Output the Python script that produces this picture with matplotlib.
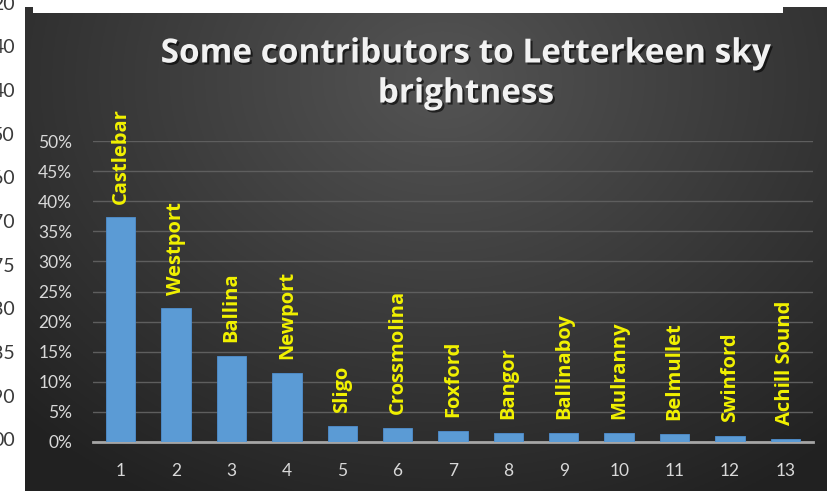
import numpy as np
import matplotlib
matplotlib.use("Agg")
import matplotlib.pyplot as plt
import matplotlib.patheffects as pe
from matplotlib.patches import Rectangle

# share of sky brightness per town (percent)
towns = ["Castlebar", "Westport", "Ballina", "Newport", "Sligo", "Crossmolina",
         "Foxford", "Bangor", "Ballinaboy", "Mulranny", "Belmullet", "Swinford",
         "Achill Sound"]
ranks = ["1", "2", "3", "4", "5", "6", "7", "8", "9", "10", "11", "12", "13"]
share = [37.3, 22.2, 14.3, 11.5, 2.6, 2.35, 1.8, 1.55, 1.55, 1.55, 1.4, 1.0, 0.5]
yticks = [0, 5, 10, 15, 20, 25, 30, 35, 40, 45, 50]

# bits of another chart's axis peeking out on the left
side_labels = ["20", "40", "40", "50", "60", "70", "75", "80", "85", "90", "00"]

W, H = 828, 491
fig = plt.figure(figsize=(W / 100, H / 100), dpi=100)
fig.patch.set_facecolor("white")

# stray axis numbers in the white margin
for i, s in enumerate(side_labels):
    fig.text(15 / W, 1 - (4 + i * 43.7) / H, s, ha="right", va="center",
             fontsize=14, color="#3a3a3a", family="Lato")

# dark radial background of the chart
bg = fig.add_axes([25 / W, 0, (W - 25) / W, (H - 7) / H])
gx, gy = np.meshgrid(np.linspace(0, 1, 400), np.linspace(0, 1, 240))
r = np.sqrt(((gx - 0.52) / 0.75) ** 2 + ((gy - 0.15) / 1.0) ** 2)
shade = np.clip(0.33 - 0.2 * r, 0.13, 0.33)
bg.imshow(np.dstack([shade, shade, shade]), aspect="auto", extent=[0, 1, 1, 0])
bg.set_axis_off()

# white strip across the top
fig.add_artist(Rectangle((33 / W, 1 - 13 / H), (783 - 33) / W, 13 / H,
                         transform=fig.transFigure, facecolor="white",
                         edgecolor="none", zorder=10))

ax = fig.add_axes([93 / W, 1 - 442 / H, (813 - 93) / W, (442 - 141) / H])
ax.patch.set_alpha(0)
x = np.arange(len(towns))
bars = ax.bar(x, share, width=0.53, color="#5b9bd5", edgecolor="#4f8fcf",
              linewidth=0.6, zorder=3)

for xi, v, name in zip(x, share, towns):
    ax.text(xi, v + 2.3, name, rotation=90, ha="center", va="bottom",
            fontsize=14.5, fontweight="bold", color="#f2f200",
            family="Open Sans", zorder=4)

ax.set_xlim(-0.5, len(towns) - 0.5)
ax.set_ylim(0, 50)
ax.set_yticks(yticks)
ax.set_yticklabels([f"{t}%" for t in yticks])
ax.set_xticks(x)
ax.set_xticklabels(ranks)
ax.grid(axis="y", color="#5e5e5e", linewidth=1.0, zorder=0)
ax.set_axisbelow(True)
for side in ["top", "right", "left"]:
    ax.spines[side].set_visible(False)
ax.spines["bottom"].set_color("#a6a6a6")
ax.spines["bottom"].set_linewidth(2)
ax.tick_params(axis="both", length=0, colors="#d9d9d9", labelsize=12.5)
ax.tick_params(axis="y", pad=15)
ax.tick_params(axis="x", pad=15)
for lab in ax.get_xticklabels() + ax.get_yticklabels():
    lab.set_family("Lato")

shadow = [pe.withSimplePatchShadow(offset=(1.5, -1.5), shadow_rgbFace="black",
                                   alpha=0.6)]
fig.text(466 / W, 1 - 54 / H, "Some contributors to Letterkeen sky",
         ha="center", va="center", fontsize=24, fontweight="bold",
         color="#f2f2f2", family="Open Sans", path_effects=shadow)
fig.text(466 / W, 1 - 94 / H, "brightness",
         ha="center", va="center", fontsize=24, fontweight="bold",
         color="#f2f2f2", family="Open Sans", path_effects=shadow)

fig.savefig("out.png", dpi=100, facecolor=fig.get_facecolor())
